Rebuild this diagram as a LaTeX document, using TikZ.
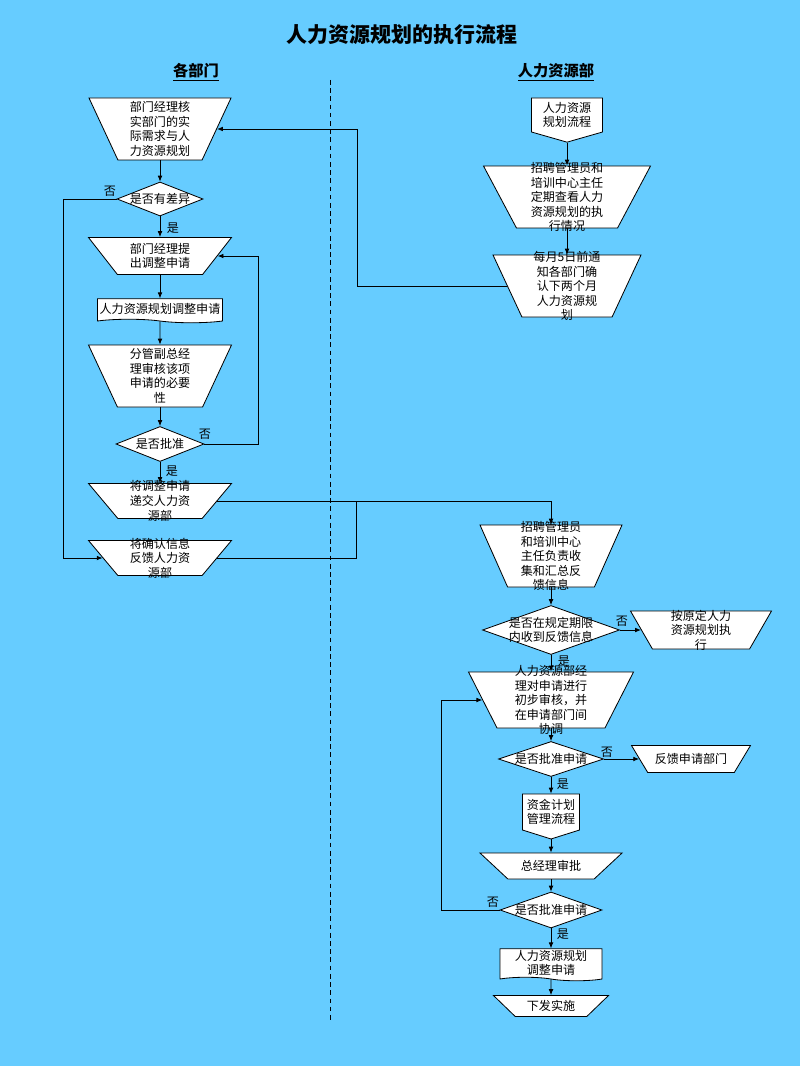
\documentclass[tikz,border=0pt]{standalone}
\usepackage{fontspec}
\newfontfamily\cjk{Noto Sans CJK SC}
\usetikzlibrary{arrows.meta, shapes.geometric, shapes.symbols}

\definecolor{skyblue}{RGB}{102,204,255}

% text that may run over the edge of its shape
\newcommand{\ovl}[2][3.9pt]{\makebox[0pt]{\smash{\raisebox{-#1}{\begin{tabular}{@{}c@{}}#2\end{tabular}}}}}

\tikzset{
  sz/.style 2 args={minimum width=#1*0.3mm, minimum height=#2*0.3mm},
  shapebox/.style={draw, fill=white, inner sep=0pt, font=\cjk\fontsize{10.3}{12.4}\selectfont},
  manop/.style n args={3}{shapebox, trapezium, shape border rotate=180, trapezium stretches body,
    trapezium angle=#1, minimum width=#2*0.3mm, inner xsep=0pt, inner ysep=#3*0.15mm},
  decision/.style={shapebox, diamond},
  docu/.style={shapebox, tape, tape bend top=none, tape bend bottom=out and in, tape bend height=3pt},
  offpage/.style={shapebox, signal, signal to=south, signal pointer angle=#1},
  lbl/.style={font=\cjk\fontsize{10.3}{12}\selectfont, inner sep=0pt},
  head/.style={font=\cjk\bfseries\fontsize{13}{15}\selectfont, inner sep=0pt},
  arr/.style={-{Latex[length=5pt, width=4pt]}},
}

\begin{document}
\begin{tikzpicture}[x=0.3mm, y=-0.3mm, line width=0.7pt]
  \fill[skyblue] (0,0) rectangle (800,1066);
  \useasboundingbox (0,0) rectangle (800,1066);

  \node[font=\cjk\bfseries\fontsize{17.9}{20}\selectfont] (title) at (402,35) {人力资源规划的执行流程};
  \node[head] (laneA) at (196,72) {\underline{各部门}};
  \node[head] (laneB) at (556,72) {\underline{人力资源部}};

  \draw[dash pattern=on 4pt off 3pt] (330,80) -- (330,1022);

  % 各部门
  \node[manop={65}{142}{62}] (verify) at (160,129) {\ovl{部门经理核\\实部门的实\\际需求与人\\力资源规划}};
  \node[decision, sz={86}{34}] (diff) at (160,199) {\ovl{是否有差异}};
  \node[manop={52}{143}{37}] (propose) at (160,256) {\ovl{部门经理提\\出调整申请}};
  \node[docu, sz={125}{24}] (form) at (160,309) {\ovl{人力资源规划调整申请}};
  \node[manop={65}{143}{62}] (vpcheck) at (160,376) {\ovl{分管副总经\\理审核该项\\申请的必要\\性}};
  \node[decision, sz={88}{35}] (approve) at (160,444) {\ovl{是否批准}};
  \node[manop={50}{143}{35}] (submit) at (160,501) {\ovl{将调整申请\\递交人力资\\源部}};
  \node[manop={50}{143}{35}] (confirm) at (160,558) {\ovl{将确认信息\\反馈人力资\\源部}};

  % 人力资源部
  \node[offpage=148, sz={71}{34}] (plan) at (567,115) {\ovl{人力资源\\规划流程}};
  \node[manop={62}{167}{62}] (check) at (567,197) {\ovl{招聘管理员和\\培训中心主任\\定期查看人力\\资源规划的执\\行情况}};
  \node[manop={65}{148}{62}] (notify) at (567,286) {\ovl{每月5日前通\\知各部门确\\认下两个月\\人力资源规\\划}};
  \node[manop={66}{142}{62}] (collect) at (551,556) {\ovl{招聘管理员\\和培训中心\\主任负责收\\集和汇总反\\馈信息}};
  \node[decision, sz={137}{49}] (recv) at (551,630) {\ovl{是否在规定期限\\内收到反馈信息}};
  \node[manop={60}{141}{38}] (keep) at (701,630) {\ovl{按原定人力\\资源规划执\\行}};
  \node[manop={63}{165}{56}] (review) at (551,700) {\ovl{人力资源部经\\理对申请进行\\初步审核，并\\在申请部门间\\协调}};
  \node[decision, sz={105}{35}] (approveA) at (551,759) {\ovl{是否批准申请}};
  \node[manop={59}{119}{27}] (feedback) at (691,759) {\ovl{反馈申请部门}};
  \node[offpage=145, sz={57}{36}] (fund) at (551,812) {\ovl{资金计划\\管理流程}};
  \node[manop={43}{142}{26}] (gm) at (551,866) {\ovl{总经理审批}};
  \node[decision, sz={102}{36}] (approveB) at (551,910) {\ovl{是否批准申请}};
  \node[docu, sz={102}{32}] (adjust) at (551,963) {\ovl{人力资源规划\\调整申请}};
  \node[manop={44}{115}{21}] (issue) at (551,1006) {\ovl{下发实施}};

  % yes / no
  \node[lbl] (noA) at (110,191) {否};
  \node[lbl] (yesA) at (173,228) {是};
  \node[lbl] (noB) at (205,434) {否};
  \node[lbl] (yesB) at (172,471) {是};
  \node[lbl] (noC) at (622,621) {否};
  \node[lbl] (yesC) at (564,661) {是};
  \node[lbl] (noD) at (607,752) {否};
  \node[lbl] (yesD) at (563,784) {是};
  \node[lbl] (noE) at (493,902) {否};
  \node[lbl] (yesE) at (563,934) {是};

  \coordinate (loopL) at (63,199);
  \coordinate (loopR) at (258,444);
  \coordinate (mergeA) at (356,501);
  \coordinate (backA) at (357,129);
  \coordinate (loopC) at (441,910);

  \draw[arr] (verify) -- (diff);
  \draw[arr] (diff) -- (propose);
  \draw[arr] (propose) -- (form);
  \draw[arr] (form) -- (vpcheck);
  \draw[arr] (vpcheck) -- (approve);
  \draw[arr] (approve) -- (submit);
  \draw[arr] (diff) -- (loopL) |- (confirm);
  \draw[arr] (approve) -- (loopR) |- (propose);

  \draw[arr] (plan) -- (check);
  \draw[arr] (check) -- (notify);
  \draw[arr] (notify) -| (backA) -- (verify);
  \draw[arr] (submit) -| (collect);
  \draw (confirm) -| (mergeA);

  \draw[arr] (collect) -- (recv);
  \draw[arr] (recv) -- (keep);
  \draw[arr] (recv) -- (review);
  \draw[arr] (review) -- (approveA);
  \draw[arr] (approveA) -- (feedback);
  \draw[arr] (approveA) -- (fund);
  \draw[arr] (fund) -- (gm);
  \draw[arr] (gm) -- (approveB);
  \draw[arr] (approveB) -- (adjust);
  \draw[arr] (adjust) -- (issue);
  \draw[arr] (approveB) -- (loopC) |- (review);
\end{tikzpicture}
\end{document}
